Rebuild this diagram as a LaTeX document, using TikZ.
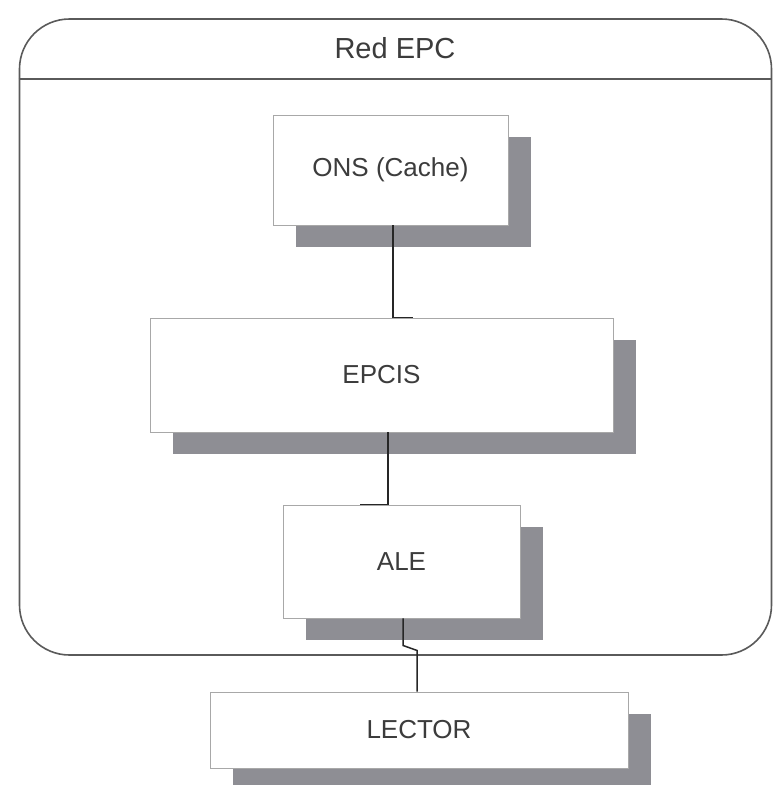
\documentclass[tikz,border=0pt]{standalone}
\usepackage{fontspec}
\setmainfont{Liberation Sans}
\usetikzlibrary{shadows}

\definecolor{framegray}{HTML}{5A5A5A}
\definecolor{boxline}{HTML}{A8A8A8}
\definecolor{shadowgray}{HTML}{8E8E94}
\definecolor{textgray}{HTML}{3C3C3C}

\tikzset{
  container/.style={draw=framegray, line width=1.6pt, rounded corners=50pt,
    fill=white, rectangle, inner sep=0pt},
  title/.style={text=textgray, font=\fontsize{29}{33}\selectfont},
  layerbox/.style={draw=boxline, line width=0.9pt, fill=white, rectangle,
    inner sep=0pt, text=textgray, font=\fontsize{26}{30}\selectfont,
    drop shadow={shadow xshift=23pt, shadow yshift=-22pt,
      fill=shadowgray, opacity=1, draw=none}},
  link/.style={draw=black!85, line width=1.5pt},
}

\begin{document}
\begin{tikzpicture}[x=1pt, y=-1pt]
  \useasboundingbox (0,0) rectangle (772,785);

  % EPC network frame with its title bar
  \node[container, minimum width=752pt, minimum height=636pt] (red) at (395.5,337) {};
  \draw[framegray, line width=1.4pt] (red.west |- 0,79) -- (red.east |- 0,79);
  \node[title] (redtitle) at (395,48) {Red EPC};

  % Layers of the stack
  \node[layerbox, minimum width=235pt, minimum height=110pt] (ons) at (390.5,170) {ONS (Cache)};
  \node[layerbox, minimum width=463pt, minimum height=114pt] (epcis) at (381.5,375) {EPCIS};
  \node[layerbox, minimum width=237pt, minimum height=113pt] (ale) at (401.5,561.5) {ALE};
  \node[layerbox, minimum width=418pt, minimum height=76pt] (lector) at (419,730) {LECTOR};

  % Links between layers
  \draw[link] ([xshift=2.5pt]ons.south) |- ([xshift=31.5pt]epcis.north);
  \draw[link] ([xshift=6.5pt]epcis.south) |- ([xshift=-41.5pt]ale.north);
  \draw[link] ([xshift=1.5pt]ale.south) -- ++(0,27) -- ++(14,5) -- ([xshift=-2pt]lector.north);
\end{tikzpicture}
\end{document}
